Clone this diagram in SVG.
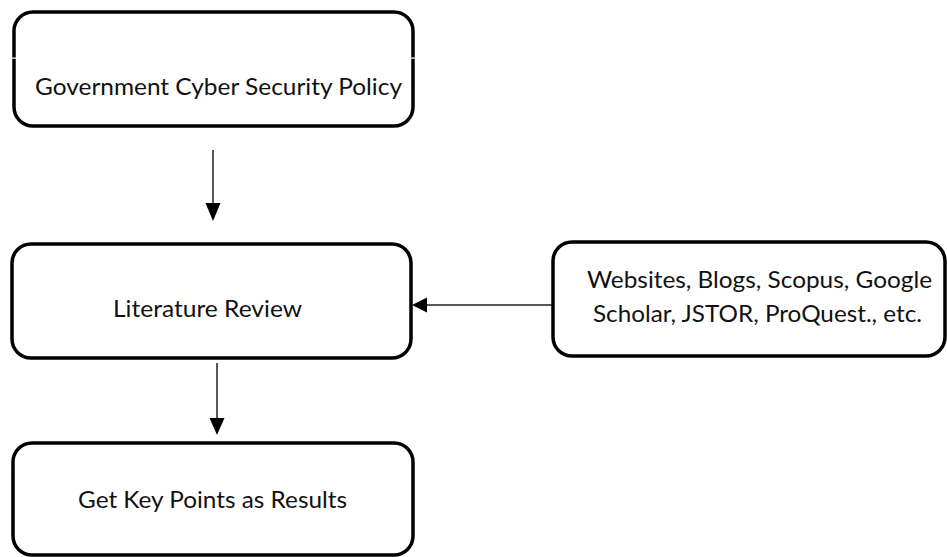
<svg xmlns="http://www.w3.org/2000/svg" width="947" height="557" viewBox="0 0 947 557">
  <style>
    .box { fill: #ffffff; stroke: #000000; stroke-width: 3.5; }
    .label { font-family: Lato, "Open Sans", "Liberation Sans", sans-serif; font-size: 22.5px; fill: #111111; }
    .link { stroke: #222222; stroke-width: 1.5; fill: none; }
    .head { fill: #000000; }
  </style>
  <rect width="947" height="557" fill="#ffffff"/>

  <g id="connectors">
    <line class="link" x1="213" y1="150" x2="213" y2="205"/>
    <polygon class="head" points="205.5,203 220.5,203 213,221"/>
    <line class="link" x1="553" y1="305" x2="424" y2="305"/>
    <polygon class="head" points="427,297.5 427,312.5 412,305"/>
    <line class="link" x1="217" y1="363" x2="217" y2="420"/>
    <polygon class="head" points="209.5,418 224.5,418 217,435"/>
  </g>

  <g id="policy">
    <rect class="box" x="14" y="12" width="399" height="114" rx="19"/>
    <rect x="11" y="57.5" width="6" height="1.2" fill="#ffffff"/>
    <rect x="410" y="57.5" width="6" height="1.2" fill="#ffffff"/>
    <text class="label" x="35" y="95" textLength="367" lengthAdjust="spacingAndGlyphs">Government Cyber Security Policy</text>
  </g>

  <g id="literature">
    <rect class="box" x="12" y="244" width="399" height="114" rx="19"/>
    <text class="label" x="113" y="317" textLength="189" lengthAdjust="spacingAndGlyphs">Literature Review</text>
  </g>

  <g id="sources">
    <rect class="box" x="553" y="242" width="392" height="114" rx="19"/>
    <text class="label" x="587" y="288" textLength="345" lengthAdjust="spacingAndGlyphs">Websites, Blogs, Scopus, Google</text>
    <text class="label" x="593" y="322" textLength="329" lengthAdjust="spacingAndGlyphs">Scholar, JSTOR, ProQuest., etc.</text>
  </g>

  <g id="results">
    <rect class="box" x="13" y="443" width="400" height="112" rx="19"/>
    <text class="label" x="78" y="508" textLength="269" lengthAdjust="spacingAndGlyphs">Get Key Points as Results</text>
  </g>
</svg>
